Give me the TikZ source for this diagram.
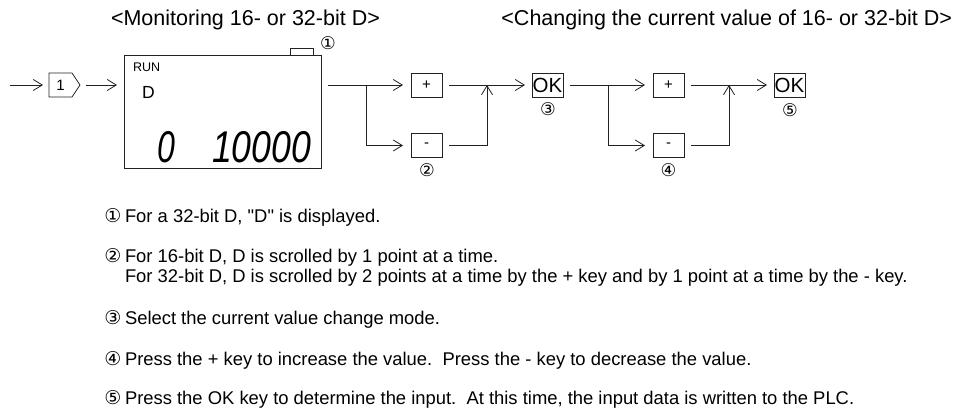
\documentclass[tikz,border=0pt]{standalone}
\usepackage{fontspec}
\setmainfont{Liberation Sans}
\newfontfamily\circfont{DejaVu Sans}
\usetikzlibrary{arrows.meta,calc}
\definecolor{ink}{HTML}{222222}
\begin{document}
\begin{tikzpicture}[x=1pt,y=-1pt,
  every node/.style={inner sep=0pt, outer sep=0pt, text=black},
  line/.style={draw=ink, line width=0.8pt},
  arr/.style={line, -{Straight Barb[length=9pt,width=11pt,line width=0.8pt]}},
  keybox/.style={line, minimum width=31pt, minimum height=24pt, font=\fontsize{15}{15}\selectfont},
  okbox/.style={line, minimum width=31pt, minimum height=24pt, font=\fontsize{20.5}{20.5}\selectfont},
  hd/.style={anchor=base west, font=\fontsize{21.5}{21.5}\selectfont},
  body/.style={anchor=base west, font=\fontsize{18.4}{20}\selectfont},
  circ/.style={font=\circfont\fontsize{17.5}{17.5}\selectfont},
  circb/.style={anchor=base, font=\circfont\fontsize{19}{19}\selectfont}
]
\useasboundingbox[fill=white] (0,0) rectangle (953,412);

% headers
\node[hd] (h1) at (111,25.5) {<Monitoring 16- or 32-bit D>};
\node[hd, anchor=base east] (h2) at (952,25.5) {<Changing the current value of 16- or 32-bit D>};

% key 1 (pentagon)
\node[minimum width=23pt, minimum height=24pt, font=\fontsize{15}{15}\selectfont] (k1) at (60.5,85) {1};
\draw[line] (k1.north west) -- (k1.north east) -- ($(k1.east)+(8,0)$) coordinate (k1tip) -- (k1.south east) -- (k1.south west) -- cycle;

% LCD
\node[line, minimum width=197pt, minimum height=113pt] (lcd) at (222.5,111.5) {};
\node[anchor=base west, font=\fontsize{12.5}{12.5}\selectfont] (run) at (133,72) {RUN};
\node[anchor=base west, font=\fontsize{17.5}{17.5}\selectfont] (dl) at (142,99) {D};
\node[anchor=base west] (dg1) at (157,162) {\scalebox{0.72}[1]{\fontsize{44.5}{44.5}\selectfont\itshape 0}};
\node[anchor=base east] (dg2) at (311,162) {\scalebox{0.8}[1]{\fontsize{44.5}{44.5}\selectfont\itshape 10000}};
\draw[line] (290,55) -- (290,48) -- (313,48) -- (313,55);
\node[circ] (c1) at (328,43) {①};

% keys
\node[keybox] (p1) at (426.5,85) {+};
\node[keybox] (m1) at (426.5,145.5) {-};
\node[okbox] (ok1) at (547.5,85) {OK};
\node[keybox] (p2) at (668.5,85) {+};
\node[keybox] (m2) at (668.5,145.5) {-};
\node[okbox] (ok2) at (789.5,85) {OK};
\node[circ] (c2) at (427,170) {②};
\node[circ] (c3) at (548,109.5) {③};
\node[circ] (c4) at (668.5,170) {④};
\node[circ] (c5) at (790,110) {⑤};

% connectors
\coordinate (s0) at (10,85);
\coordinate (b1) at (366,85);
\coordinate (j1) at (487,85);
\coordinate (b2) at (608,85);
\coordinate (j2) at (729,85);
\draw[arr, shorten >=6pt] (s0) -- (k1.west);
\draw[arr, shorten <=6pt, shorten >=7pt] (k1tip) -- (k1tip -| lcd.west);
\draw[line, shorten <=7pt] (lcd.east |- b1) -- (b1);
\draw[arr, shorten >=8pt] (b1) -- (p1.west);
\draw[arr, shorten >=8pt] (b1) |- (m1.west);
\draw[line, shorten <=7pt] (p1.east) -- (j1);
\draw[arr, shorten <=7pt] (m1.east) -| (j1);
\draw[arr, shorten >=7pt] (j1) -- (ok1.west);
\draw[line, shorten <=7pt] (ok1.east) -- (b2);
\draw[arr, shorten >=8pt] (b2) -- (p2.west);
\draw[arr, shorten >=8pt] (b2) |- (m2.west);
\draw[line, shorten <=7pt] (p2.east) -- (j2);
\draw[arr, shorten <=7pt] (m2.east) -| (j2);
\draw[arr, shorten >=7pt] (j2) -- (ok2.west);

% notes
\node[circb] (n1c) at (113,222) {①};
\node[body] (n1) at (125,222) {For a 32-bit D, \textquotedbl D\textquotedbl{} is displayed.};
\node[circb] (n2c) at (113,262) {②};
\node[body] (n2) at (125,262) {For 16-bit D, D is scrolled by 1 point at a time.};
\node[body] (n2b) at (125,282) {For 32-bit D, D is scrolled by 2 points at a time by the + key and by 1 point at a time by the - key.};
\node[circb] (n3c) at (113,324) {③};
\node[body] (n3) at (125,324) {Select the current value change mode.};
\node[circb] (n4c) at (113,365) {④};
\node[body] (n4) at (125,365) {Press the + key to increase the value.\ \ Press the - key to decrease the value.};
\node[circb] (n5c) at (113,404) {⑤};
\node[body] (n5) at (125,404) {Press the OK key to determine the input.\ \ At this time, the input data is written to the PLC.};
\end{tikzpicture}
\end{document}
